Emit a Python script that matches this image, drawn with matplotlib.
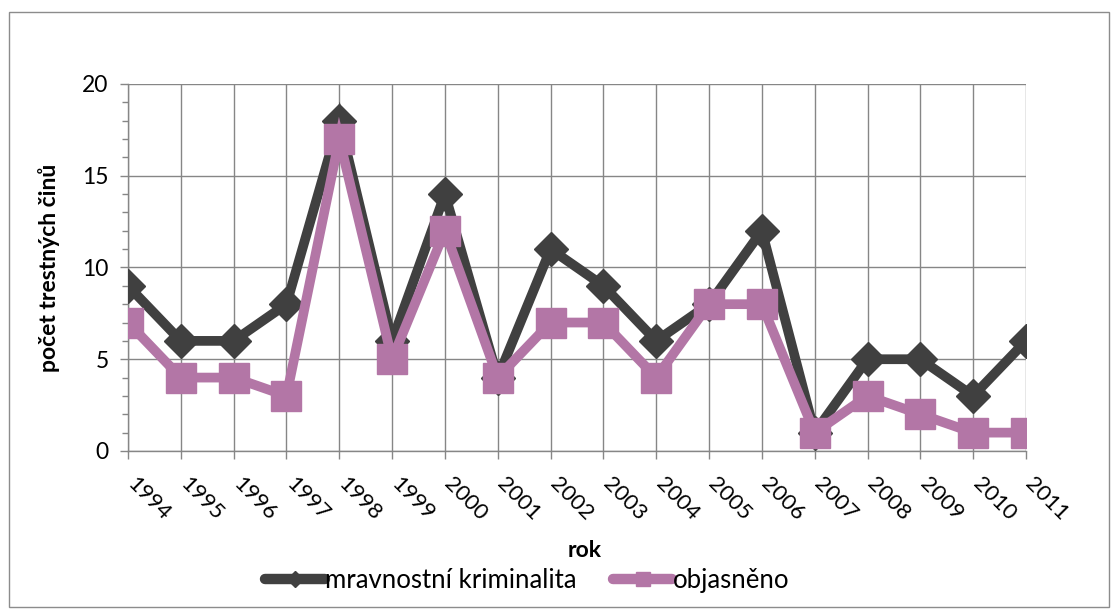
import matplotlib.pyplot as plt
import matplotlib.transforms as mtransforms
from matplotlib.ticker import MultipleLocator

plt.rcParams['font.family'] = ['Lato', 'DejaVu Sans']

roky = ['1994', '1995', '1996', '1997', '1998', '1999', '2000', '2001', '2002',
        '2003', '2004', '2005', '2006', '2007', '2008', '2009', '2010', '2011']
mravnostni = [9, 6, 6, 8, 18, 6, 14, 4, 11, 9, 6, 8, 12, 1, 5, 5, 3, 6]
objasneno = [7, 4, 4, 3, 17, 5, 12, 4, 7, 7, 4, 8, 8, 1, 3, 2, 1, 1]

dark = '#404040'
pink = '#b376a6'
grid = '#868686'

fig = plt.figure(figsize=(11.17, 6.10), dpi=100)
# chart border
fig.patches.append(plt.Rectangle((0.008, 0.005), 0.985, 0.975, transform=fig.transFigure,
                                 fill=False, edgecolor='#8c8c8c', linewidth=1))
ax = fig.add_axes([0.1146, 0.2607, 0.8039, 0.6016])

x = list(range(len(roky)))
ax.plot(x, mravnostni, color=dark, linewidth=7, marker='D', markersize=17,
        solid_joinstyle='miter', label='mravnostní kriminalita', zorder=3)
ax.plot(x, objasneno, color=pink, linewidth=7, marker='s', markersize=21,
        solid_joinstyle='miter', label='objasněno', zorder=4)

ax.set_xlim(0, len(roky) - 1)
ax.set_ylim(0, 20)
ax.yaxis.set_major_locator(MultipleLocator(5))
ax.yaxis.set_minor_locator(MultipleLocator(1))
ax.set_xticks(x)
ax.set_xticklabels(roky, rotation=-45, ha='left', va='top', rotation_mode='anchor')
ax.tick_params(axis='x', length=6, width=1, color=grid, labelsize=16, pad=10)
ax.tick_params(axis='y', which='major', length=6, width=1, color=grid, labelsize=16.5, pad=8)
ax.tick_params(axis='y', which='minor', length=4, width=1, color=grid)

# shift the rotated year labels a bit to the right, like Excel does
posun = mtransforms.ScaledTranslation(7 / 72, 0, fig.dpi_scale_trans)
for lbl in ax.get_xticklabels():
    lbl.set_transform(lbl.get_transform() + posun)

ax.grid(True, which='major', color=grid, linewidth=1)
ax.set_axisbelow(True)
for s in ['top', 'right']:
    ax.spines[s].set_visible(False)
for s in ['left', 'bottom']:
    ax.spines[s].set_color(grid)
    ax.spines[s].set_linewidth(1)

ax.set_ylabel('počet trestných činů', fontsize=16.5, fontweight='bold', labelpad=16)
fig.text(0.523, 0.098, 'rok', fontsize=16.5, fontweight='bold', ha='center', va='center')

leg = fig.legend(loc='center', bbox_to_anchor=(0.472, 0.049), ncol=2, frameon=False,
                 fontsize=18.5, handlelength=2.3, handletextpad=0.0, columnspacing=1.45,
                 markerscale=0.5)
for h in leg.get_lines():
    h.set_solid_capstyle('round')
    h.set_linewidth(7.5)

fig.savefig('out.png', dpi=100)
